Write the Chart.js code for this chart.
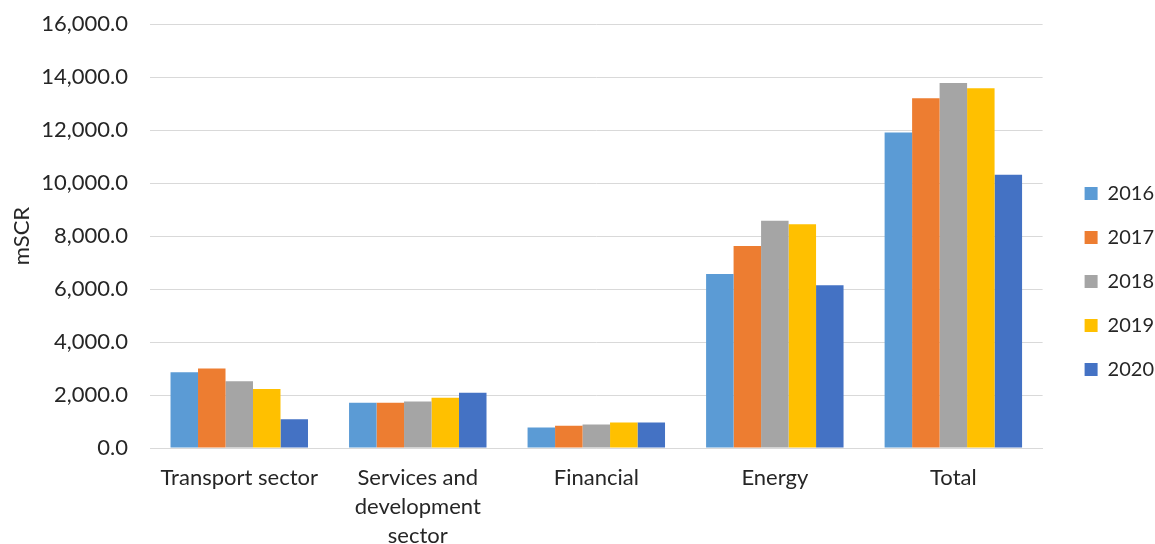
<!DOCTYPE html>
<html>
<head>
<meta charset="utf-8">
<script src="https://cdn.jsdelivr.net/npm/chart.js@4"></script>
<style>
  html, body { margin: 0; padding: 0; background: #fff; }
  #wrap { width: 1155px; height: 544px; }
</style>
</head>
<body>
<div id="wrap"><canvas id="myChart"></canvas></div>
<script>
const sectors = ['Transport sector', ['Services and', 'development', 'sector'], 'Financial', 'Energy', 'Total'];
const years = ['2016', '2017', '2018', '2019', '2020'];
const colors = ['#5B9BD5', '#ED7D31', '#A5A5A5', '#FFC000', '#4472C4'];

const v2016 = [2858, 1708, 770, 6563, 11901];
const v2017 = [2998, 1708, 835, 7627, 13194];
const v2018 = [2516, 1757, 884, 8578, 13776];
const v2019 = [2228, 1898, 960, 8441, 13574];
const v2020 = [1089, 2087, 960, 6144, 10316];
const series = [v2016, v2017, v2018, v2019, v2020];

const yMin = 0;
const yMax = 16000;
const yStep = 2000;

const txt = '#262626';
const font = { family: 'Lato', size: 22 };

// move the legend drawing a little right and down
const legendShift = {
  id: 'legendShift',
  afterLayout(chart) {
    const lg = chart.legend;
    lg.left += 18;
    lg.right += 18;
    lg.top += 8;
    lg.bottom += 8;
  }
};

const ctx = document.getElementById('myChart');

new Chart(ctx, {
  type: 'bar',
  data: {
    labels: sectors,
    datasets: years.map((y, i) => ({
      label: y,
      data: series[i],
      backgroundColor: colors[i],
      borderWidth: 0,
      categoryPercentage: 0.77,
      barPercentage: 1.0
    }))
  },
  options: {
    responsive: true,
    maintainAspectRatio: false,
    animation: false,
    layout: { padding: { top: 3, right: 9, left: 0, bottom: 0 } },
    plugins: {
      legend: {
        position: 'right',
        labels: {
          color: txt,
          font: { family: 'Lato', size: 20 },
          boxWidth: 13,
          boxHeight: 13,
          padding: 24
        }
      },
      tooltip: { enabled: false }
    },
    scales: {
      x: {
        grid: { display: false },
        border: { color: '#d9d9d9', width: 1 },
        ticks: {
          color: txt,
          font: { family: 'Lato', size: 22, lineHeight: 1.3 },
          maxRotation: 0,
          autoSkip: false,
          padding: 8
        },
        afterFit(scale) {
          scale.height = 96;
        }
      },
      y: {
        min: yMin,
        max: yMax,
        border: { display: false },
        grid: { color: '#d9d9d9', lineWidth: 1, drawTicks: false },
        ticks: {
          stepSize: yStep,
          color: txt,
          font: font,
          padding: 22,
          callback: v => v.toLocaleString('en-US', { minimumFractionDigits: 1, maximumFractionDigits: 1 })
        },
        title: {
          display: true,
          text: 'mSCR',
          color: txt,
          font: font,
          padding: { top: 9, bottom: 7 }
        },
        afterFit(scale) {
          scale.width = 150;
          scale.paddingTop = 24;
        }
      }
    }
  },
  plugins: [legendShift]
});
</script>
</body>
</html>
